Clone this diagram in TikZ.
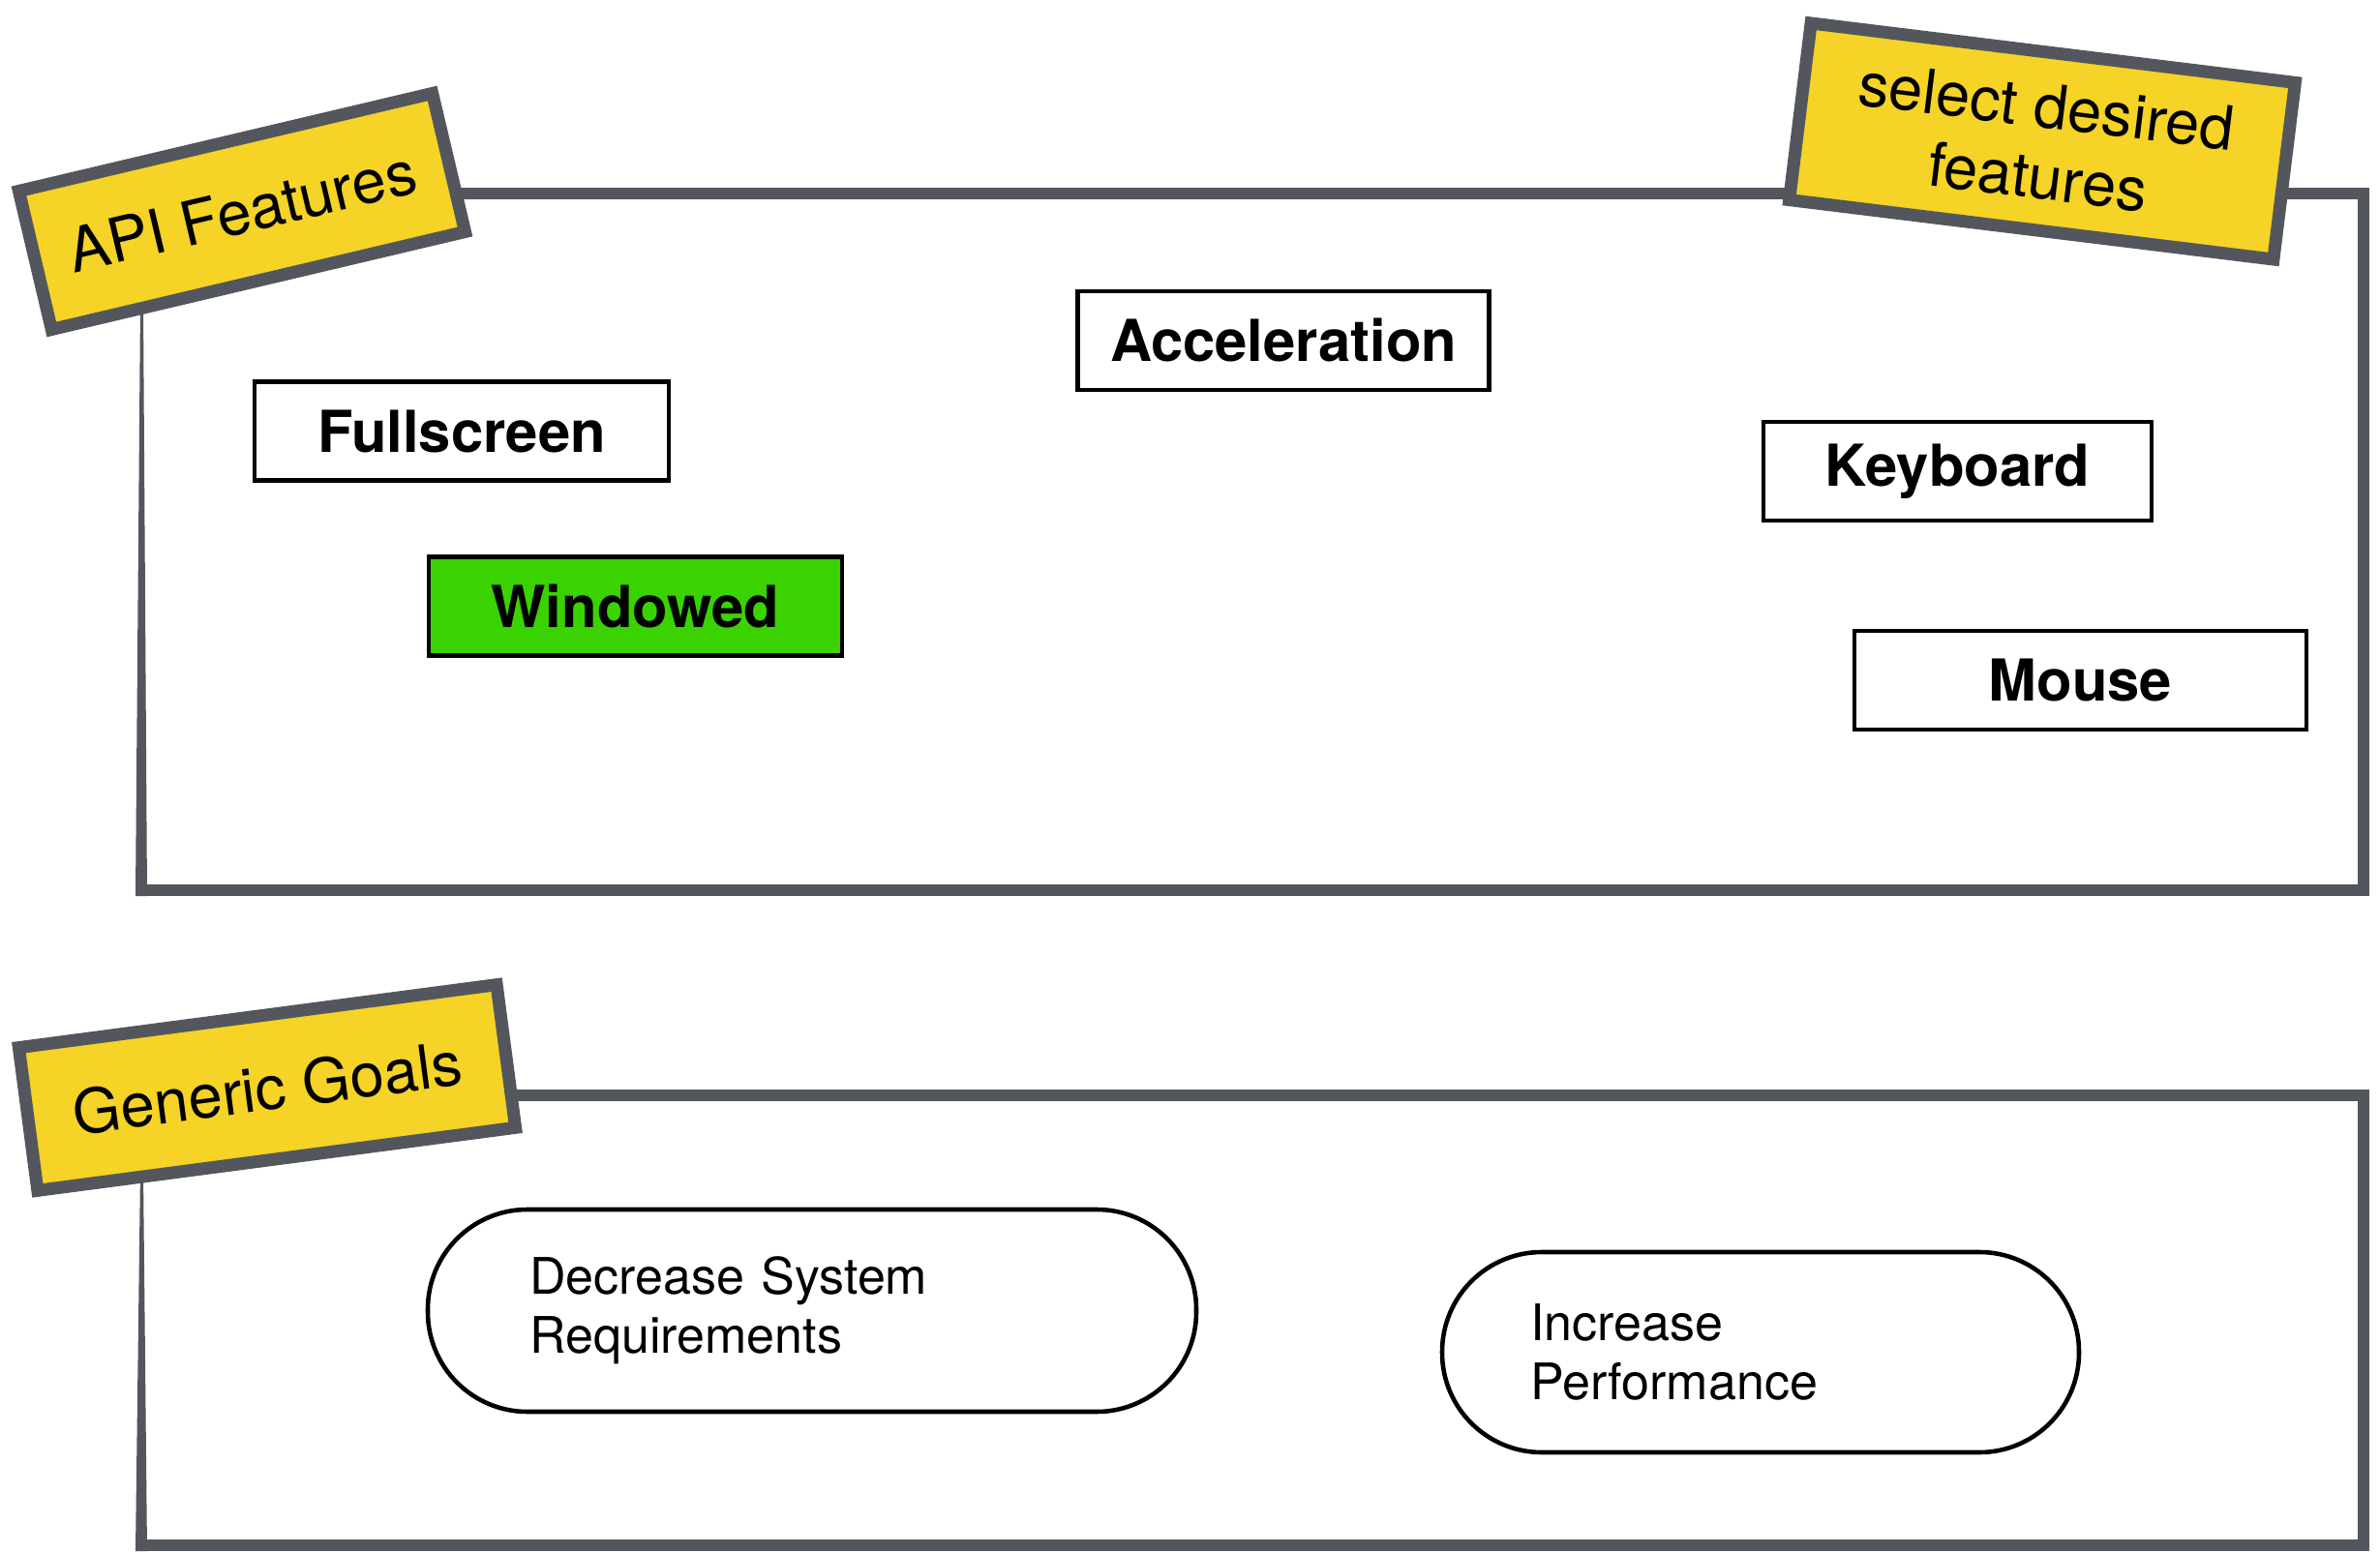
\documentclass[tikz,border=0pt]{standalone}
\usepackage{fontspec}
\setmainfont{TeX Gyre Heros}
\usepackage{tikz}

\definecolor{slate}{RGB}{83,87,93}
\definecolor{tagyellow}{RGB}{245,211,39}
\definecolor{pickgreen}{RGB}{58,210,0}

\begin{document}
\begin{tikzpicture}[
  frame/.style = {line width = 0.12cm, color = slate, line cap = rect, line join = miter},
  tag/.style = {draw = slate, line width = 0.13cm, fill = tagyellow, inner sep = 0pt, align = center, font = \fontsize{18}{21}\selectfont},
  feature/.style = {draw, line width = 1.3pt, minimum height = 1.02cm, inner sep = 0pt, font = \fontsize{17}{20}\selectfont\bfseries},
  goal/.style = {draw, line width = 1.3pt, rounded corners = 1.03cm, inner sep = 0pt, align = left, font = \fontsize{14.8}{17.4}\selectfont}
]
\useasboundingbox (0, 0) rectangle (24.59, 16.04);

\draw[frame] (1.46, 14.04) -- (24.42, 14.04) -- (24.42, 6.84) -- (1.46, 6.84);
\fill[slate] (1.40, 6.78) -- (1.52, 6.78) -- (1.48, 12.9) -- (1.45, 12.9) -- cycle;
\draw[frame] (1.46, 4.72) -- (24.42, 4.72) -- (24.42, 0.07) -- (1.46, 0.07);
\fill[slate] (1.40, 0.01) -- (1.52, 0.01) -- (1.48, 3.95) -- (1.45, 3.95) -- cycle;

\node[feature, minimum width = 4.25cm] (accel) at (13.26, 12.52) {Acceleration};
\node[feature, minimum width = 4.28cm] (fullscreen) at (4.77, 11.585) {Fullscreen};
\node[feature, fill = pickgreen, minimum width = 4.27cm] (windowed) at (6.565, 9.775) {Windowed};
\node[feature, minimum width = 4.01cm] (keyboard) at (20.225, 11.17) {Keyboard};
\node[feature, minimum width = 4.67cm] (mouse) at (21.495, 9.01) {Mouse};

\node[goal, minimum width = 7.94cm, minimum height = 2.09cm, text width = 5.84cm] (decrease) at (8.39, 2.495) {Decrease System\\Requirements};
\node[goal, minimum width = 6.58cm, minimum height = 2.07cm, text width = 4.76cm] (increase) at (18.19, 2.065) {Increase\\Performance};

\node[tag, rotate = 13.3, minimum width = 4.39cm, minimum height = 1.47cm] (apitag) at (2.50, 13.855) {API Features};
\node[tag, rotate = -7, minimum width = 5.04cm, minimum height = 1.84cm] (picktag) at (21.10, 14.58) {select desired\\features};
\node[tag, rotate = 7.5, minimum width = 4.98cm, minimum height = 1.49cm] (goaltag) at (2.76, 4.80) {Generic Goals};
%\node at (12, 8) {};
\end{tikzpicture}
\end{document}
